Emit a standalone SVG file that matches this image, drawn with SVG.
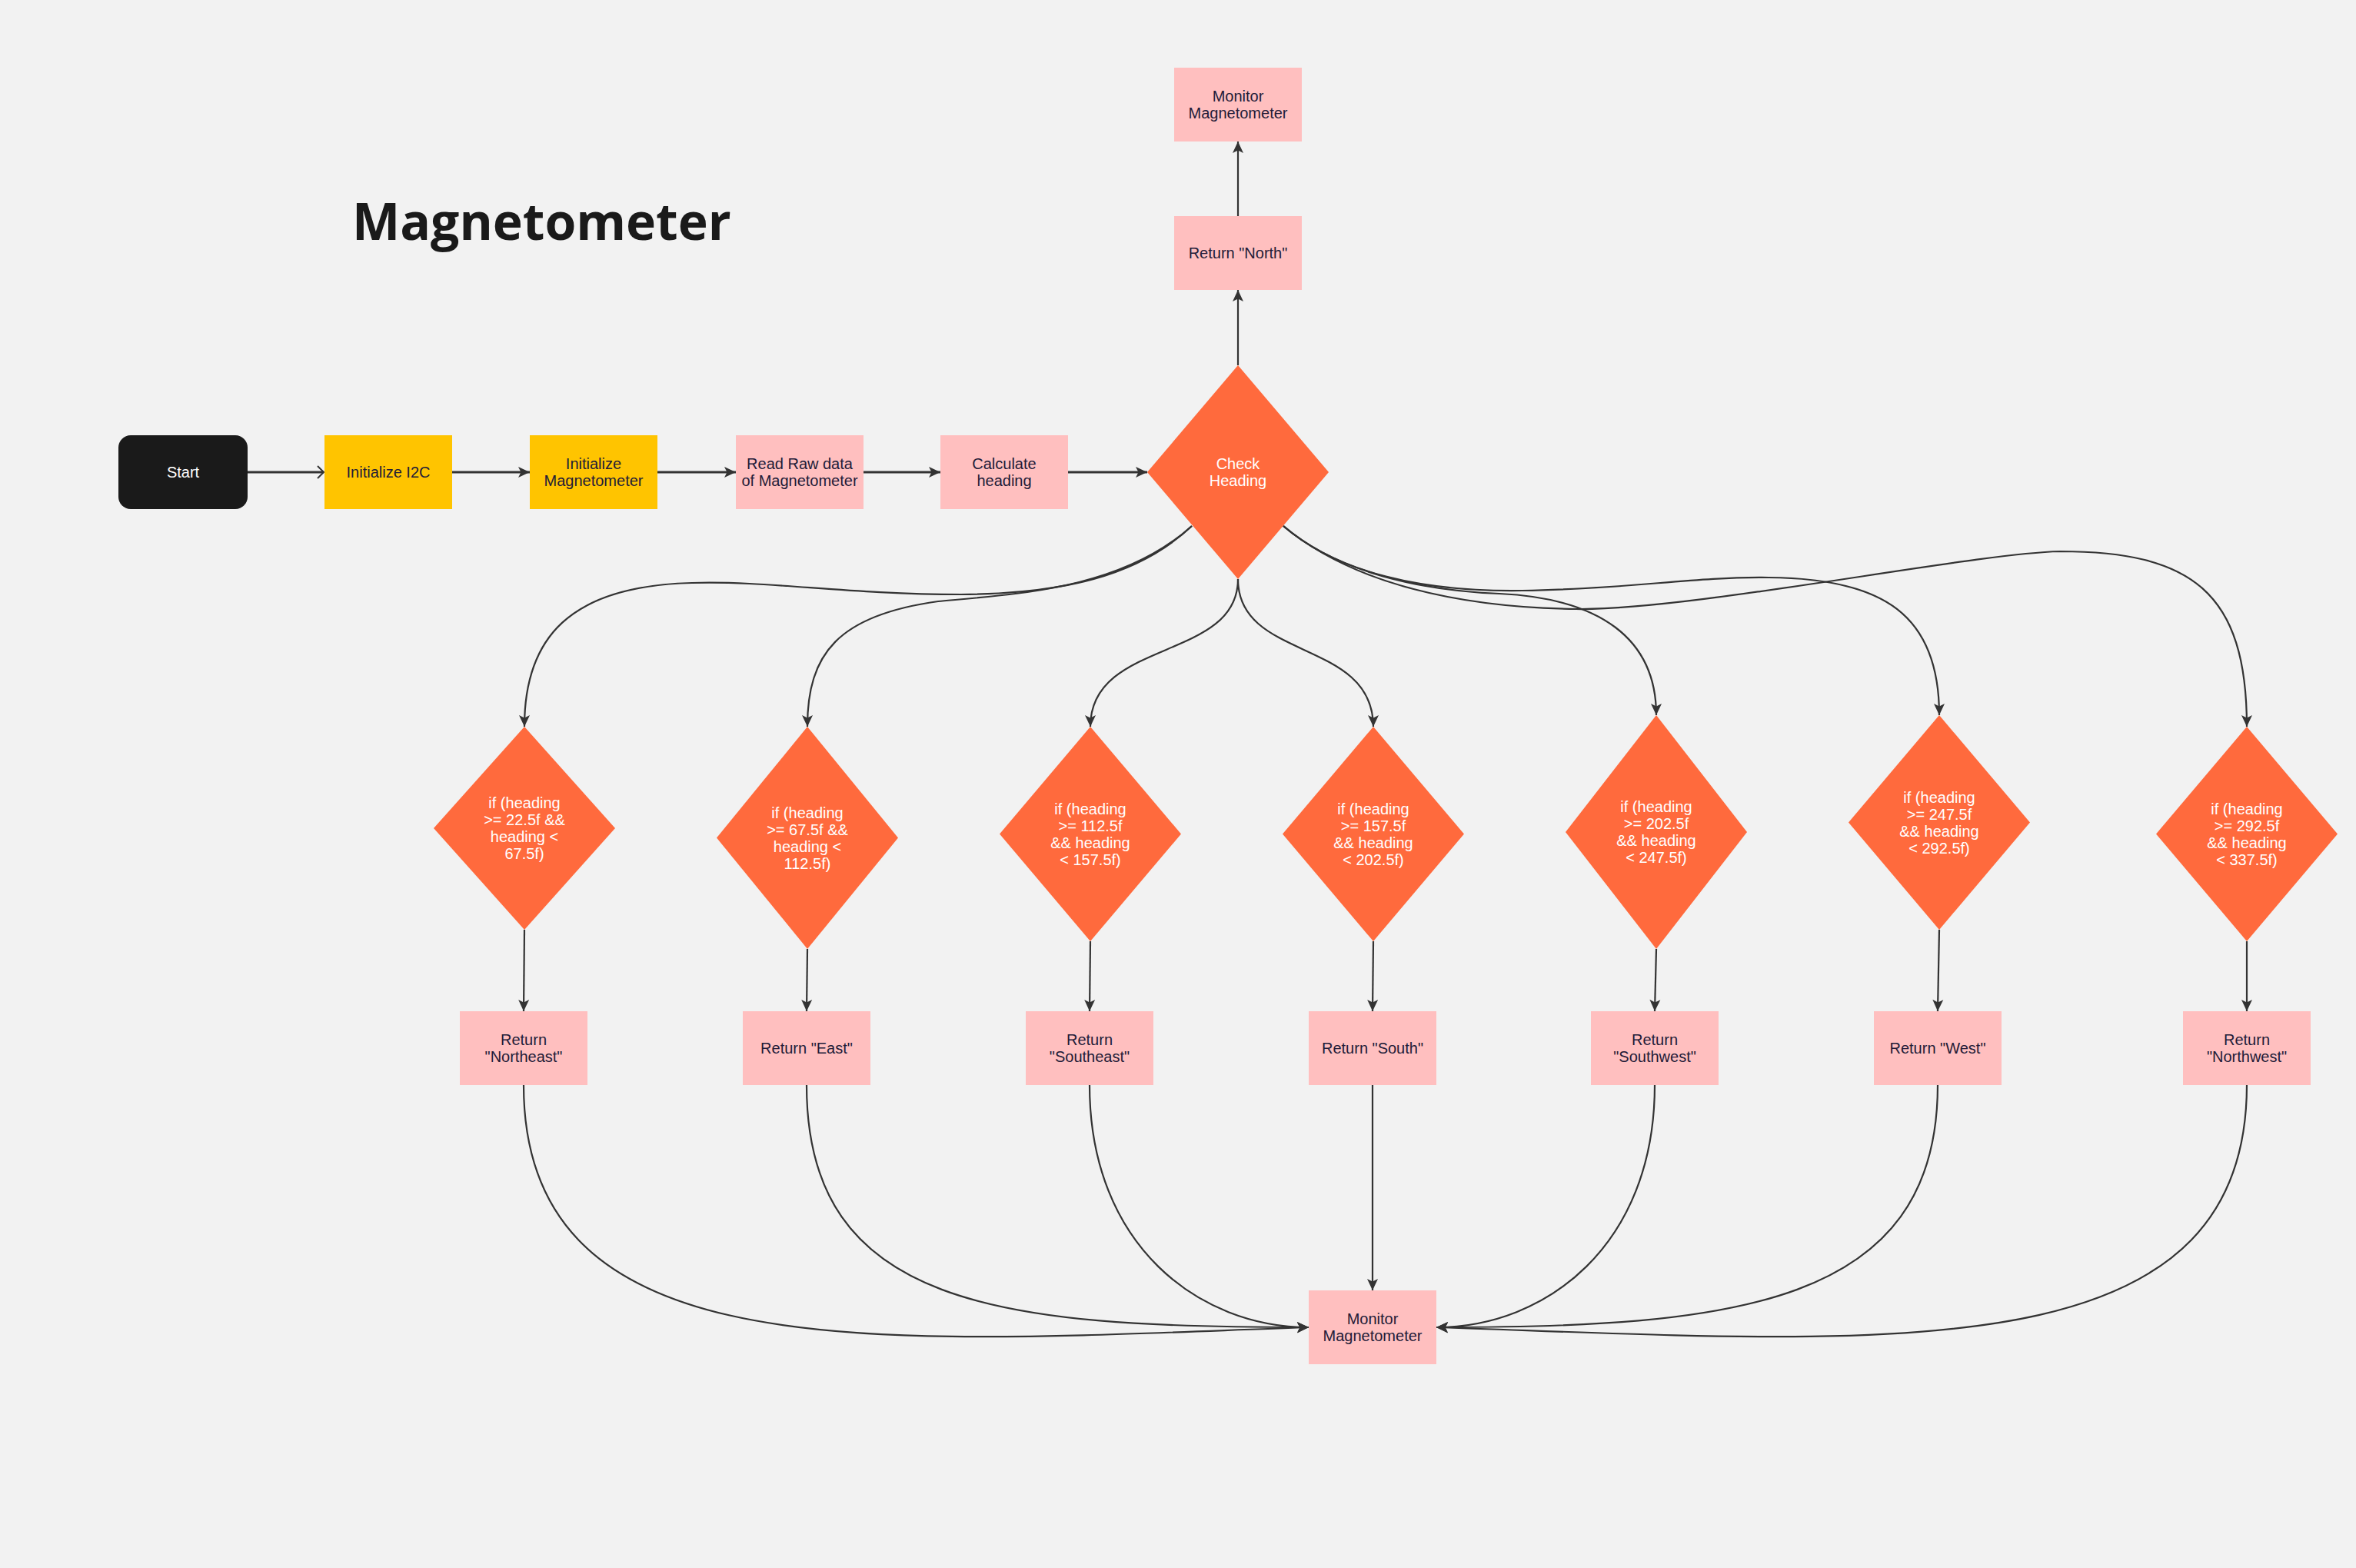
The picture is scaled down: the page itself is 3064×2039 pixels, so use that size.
<svg xmlns="http://www.w3.org/2000/svg" width="3064" height="2039" viewBox="0 0 3064 2039">
<defs>
<style>
.bg{fill:#f2f2f2}
.pink{fill:#ffbfbf}
.yel{fill:#ffc400}
.dia{fill:#ff6a3d}
.blk{fill:#1a1a1a}
.t{font-family:"Liberation Sans",Arial,sans-serif;font-size:20px;text-anchor:middle;fill:#221b38}
.w{fill:#ffffff}
.title{font-family:"Open Sans","DejaVu Sans",sans-serif;font-weight:bold;font-size:66px;fill:#1a1a1a}
.c{fill:none;stroke:#333333;stroke-width:2.2}
.c3{fill:none;stroke:#333333;stroke-width:3}
</style>
<marker id="ah" markerWidth="18" markerHeight="16" refX="16" refY="8" orient="auto" markerUnits="userSpaceOnUse"><path d="M1,1 L16,8 L1,15 L4.5,8 Z" fill="#333333"/></marker>
<marker id="ao" markerWidth="18" markerHeight="18" refX="16" refY="9" orient="auto" markerUnits="userSpaceOnUse"><path d="M8,1 L16,9 L8,17" fill="none" stroke="#333333" stroke-width="2"/></marker>
</defs>
<rect class="bg" x="0" y="0" width="3064" height="2039"/>
<text class="title" x="458" y="312">Magnetometer</text>

<g id="connectors">
<line class="c3" x1="322" y1="614" x2="421" y2="614" marker-end="url(#ao)"/>
<line class="c3" x1="588" y1="614" x2="689" y2="614" marker-end="url(#ah)"/>
<line class="c3" x1="855" y1="614" x2="957" y2="614" marker-end="url(#ah)"/>
<line class="c3" x1="1123" y1="614" x2="1223" y2="614" marker-end="url(#ah)"/>
<line class="c3" x1="1389" y1="614" x2="1492" y2="614" marker-end="url(#ah)"/>
<line class="c" x1="1610" y1="475" x2="1610" y2="377" marker-end="url(#ah)"/>
<line class="c" x1="1610" y1="281" x2="1610" y2="184" marker-end="url(#ah)"/>
<path class="c" d="M1550,684 C1480,750 1380,772 1250,773 C1100,773 1000,755 900,758 C740,762 682,830 682,945" marker-end="url(#ah)"/>
<path class="c" d="M1550,684 C1460,765 1330,772 1220,782 C1090,800 1050,850 1050,945" marker-end="url(#ah)"/>
<path class="c" d="M1610,753 C1610,860 1418,830 1418,945" marker-end="url(#ah)"/>
<path class="c" d="M1610,753 C1610,860 1786,830 1786,945" marker-end="url(#ah)"/>
<path class="c" d="M1669,684 C1740,745 1850,768 1950,772 C2080,778 2154,830 2154,930" marker-end="url(#ah)"/>
<path class="c" d="M1669,684 C1740,745 1850,770 1980,768 C2120,766 2200,750 2300,751 C2450,752 2522,800 2522,930" marker-end="url(#ah)"/>
<path class="c" d="M1669,684 C1760,760 1900,790 2050,792 C2200,794 2560,720 2679,717 C2850,717 2922,770 2922,945" marker-end="url(#ah)"/>
<line class="c" x1="682" y1="1209" x2="681" y2="1315" marker-end="url(#ah)"/>
<line class="c" x1="1050" y1="1234" x2="1049" y2="1315" marker-end="url(#ah)"/>
<line class="c" x1="1418" y1="1224" x2="1417" y2="1315" marker-end="url(#ah)"/>
<line class="c" x1="1786" y1="1224" x2="1785" y2="1315" marker-end="url(#ah)"/>
<line class="c" x1="2154" y1="1234" x2="2152" y2="1315" marker-end="url(#ah)"/>
<line class="c" x1="2522" y1="1209" x2="2520" y2="1315" marker-end="url(#ah)"/>
<line class="c" x1="2922" y1="1224" x2="2922" y2="1315" marker-end="url(#ah)"/>
<path class="c" d="M681,1411 C681,1790 1150,1745 1702,1726" marker-end="url(#ah)"/>
<path class="c" d="M1049,1411 C1049,1700 1300,1726 1702,1726" marker-end="url(#ah)"/>
<path class="c" d="M1417,1411 C1417,1620 1560,1726 1702,1726" marker-end="url(#ah)"/>
<line class="c" x1="1785" y1="1411" x2="1785" y2="1678" marker-end="url(#ah)"/>
<path class="c" d="M2152,1411 C2152,1620 2010,1726 1868,1726" marker-end="url(#ah)"/>
<path class="c" d="M2520,1411 C2520,1700 2250,1726 1868,1726" marker-end="url(#ah)"/>
<path class="c" d="M2922,1411 C2922,1790 2450,1745 1868,1726" marker-end="url(#ah)"/>
</g>

<g id="start"><rect class="blk" x="154" y="566" width="168" height="96" rx="16"/><text class="t w" x="238" y="621">Start</text></g>
<g id="init-i2c"><rect class="yel" x="422" y="566" width="166" height="96"/><text class="t" x="505" y="621">Initialize I2C</text></g>
<g id="init-mag"><rect class="yel" x="689" y="566" width="166" height="96"/><text class="t" x="772" y="610">Initialize</text><text class="t" x="772" y="632">Magnetometer</text></g>
<g id="read-raw"><rect class="pink" x="957" y="566" width="166" height="96"/><text class="t" x="1040" y="610">Read Raw data</text><text class="t" x="1040" y="632">of Magnetometer</text></g>
<g id="calc"><rect class="pink" x="1223" y="566" width="166" height="96"/><text class="t" x="1306" y="610">Calculate</text><text class="t" x="1306" y="632">heading</text></g>
<g id="check"><polygon class="dia" points="1610,475 1728,614 1610,753 1492,614"/><text class="t w" x="1610" y="610">Check</text><text class="t w" x="1610" y="632">Heading</text></g>
<g id="ret-north"><rect class="pink" x="1527" y="281" width="166" height="96"/><text class="t" x="1610" y="336">Return "North"</text></g>
<g id="monitor-top"><rect class="pink" x="1527" y="88" width="166" height="96"/><text class="t" x="1610" y="132">Monitor</text><text class="t" x="1610" y="154">Magnetometer</text></g>

<g id="d1"><polygon class="dia" points="682,945 800,1077 682,1209 564,1077"/><text class="t w" x="682" y="1051">if (heading</text><text class="t w" x="682" y="1073">&gt;= 22.5f &amp;&amp;</text><text class="t w" x="682" y="1095">heading &lt;</text><text class="t w" x="682" y="1117">67.5f)</text></g>
<g id="d2"><polygon class="dia" points="1050,945 1168,1089.5 1050,1234 932,1089.5"/><text class="t w" x="1050" y="1063.5">if (heading</text><text class="t w" x="1050" y="1085.5">&gt;= 67.5f &amp;&amp;</text><text class="t w" x="1050" y="1107.5">heading &lt;</text><text class="t w" x="1050" y="1129.5">112.5f)</text></g>
<g id="d3"><polygon class="dia" points="1418,945 1536,1084.5 1418,1224 1300,1084.5"/><text class="t w" x="1418" y="1058.5">if (heading</text><text class="t w" x="1418" y="1080.5">&gt;= 112.5f</text><text class="t w" x="1418" y="1102.5">&amp;&amp; heading</text><text class="t w" x="1418" y="1124.5">&lt; 157.5f)</text></g>
<g id="d4"><polygon class="dia" points="1786,945 1904,1084.5 1786,1224 1668,1084.5"/><text class="t w" x="1786" y="1058.5">if (heading</text><text class="t w" x="1786" y="1080.5">&gt;= 157.5f</text><text class="t w" x="1786" y="1102.5">&amp;&amp; heading</text><text class="t w" x="1786" y="1124.5">&lt; 202.5f)</text></g>
<g id="d5"><polygon class="dia" points="2154,930 2272,1082 2154,1234 2036,1082"/><text class="t w" x="2154" y="1056">if (heading</text><text class="t w" x="2154" y="1078">&gt;= 202.5f</text><text class="t w" x="2154" y="1100">&amp;&amp; heading</text><text class="t w" x="2154" y="1122">&lt; 247.5f)</text></g>
<g id="d6"><polygon class="dia" points="2522,930 2640,1069.5 2522,1209 2404,1069.5"/><text class="t w" x="2522" y="1043.5">if (heading</text><text class="t w" x="2522" y="1065.5">&gt;= 247.5f</text><text class="t w" x="2522" y="1087.5">&amp;&amp; heading</text><text class="t w" x="2522" y="1109.5">&lt; 292.5f)</text></g>
<g id="d7"><polygon class="dia" points="2922,945 3040,1084.5 2922,1224 2804,1084.5"/><text class="t w" x="2922" y="1058.5">if (heading</text><text class="t w" x="2922" y="1080.5">&gt;= 292.5f</text><text class="t w" x="2922" y="1102.5">&amp;&amp; heading</text><text class="t w" x="2922" y="1124.5">&lt; 337.5f)</text></g>

<g id="ret-ne"><rect class="pink" x="598" y="1315" width="166" height="96"/><text class="t" x="681" y="1359">Return</text><text class="t" x="681" y="1381">"Northeast"</text></g>
<g id="ret-e"><rect class="pink" x="966" y="1315" width="166" height="96"/><text class="t" x="1049" y="1370">Return "East"</text></g>
<g id="ret-se"><rect class="pink" x="1334" y="1315" width="166" height="96"/><text class="t" x="1417" y="1359">Return</text><text class="t" x="1417" y="1381">"Southeast"</text></g>
<g id="ret-s"><rect class="pink" x="1702" y="1315" width="166" height="96"/><text class="t" x="1785" y="1370">Return "South"</text></g>
<g id="ret-sw"><rect class="pink" x="2069" y="1315" width="166" height="96"/><text class="t" x="2152" y="1359">Return</text><text class="t" x="2152" y="1381">"Southwest"</text></g>
<g id="ret-w"><rect class="pink" x="2437" y="1315" width="166" height="96"/><text class="t" x="2520" y="1370">Return "West"</text></g>
<g id="ret-nw"><rect class="pink" x="2839" y="1315" width="166" height="96"/><text class="t" x="2922" y="1359">Return</text><text class="t" x="2922" y="1381">"Northwest"</text></g>
<g id="monitor-bottom"><rect class="pink" x="1702" y="1678" width="166" height="96"/><text class="t" x="1785" y="1722">Monitor</text><text class="t" x="1785" y="1744">Magnetometer</text></g>
</svg>
